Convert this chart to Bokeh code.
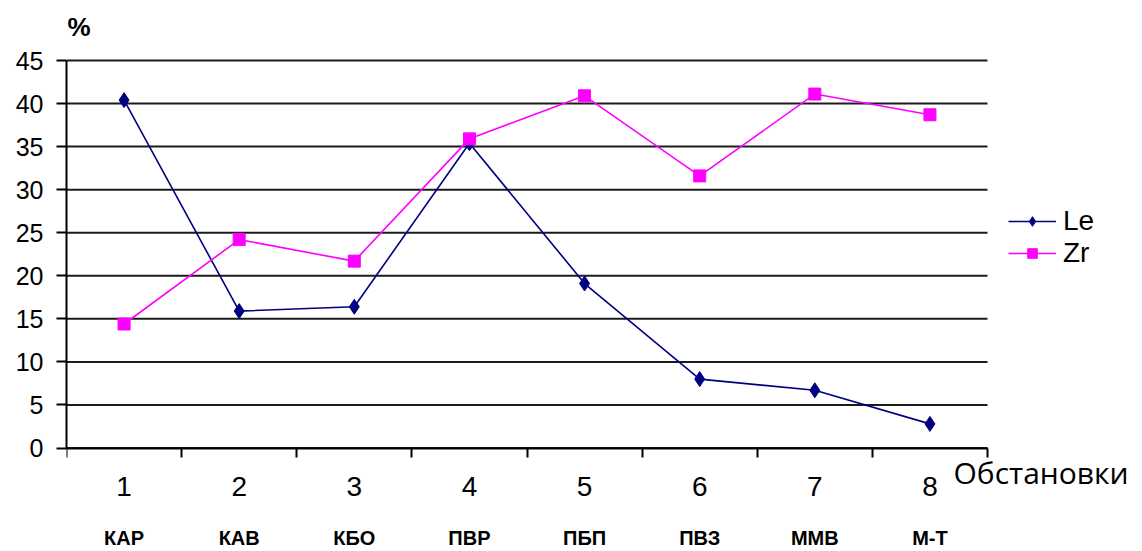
from bokeh.plotting import figure
from bokeh.models import (Range1d, FixedTicker, LinearAxis, Legend, LegendItem,
                          Label)
from bokeh.embed import file_html
from bokeh.resources import INLINE

# Settings (facies) along the horizontal axis
setting_numbers = ["1", "2", "3", "4", "5", "6", "7", "8"]
setting_codes = ["КАР", "КАВ", "КБО", "ПВР", "ПБП", "ПВЗ", "ММВ", "М-Т"]
x_title = "Обстановки"
y_title = "%"

# Share of each series, %
le_values = [40.4, 15.9, 16.4, 35.4, 19.1, 8.0, 6.7, 2.8]
zr_values = [14.4, 24.2, 21.7, 35.9, 40.9, 31.6, 41.1, 38.7]

y_ticks = [0, 5, 10, 15, 20, 25, 30, 35, 40, 45]

n = len(setting_numbers)
positions = [i + 1 for i in range(n)]
boundaries = [i + 0.5 for i in range(n + 1)]
x_lo, x_hi = 0.5, n + 0.5
y_lo, y_hi = y_ticks[0], y_ticks[-1]

# Plot box: categories span x 66..987 px, values span y 447.5..60 px.
# The frame is stretched over the whole canvas (right of the y axis) so
# the captions, legend and category labels can sit around the chart;
# axes and grid lines are bounded to the value/category span.
W, H = 1142, 551
left, right, top, bottom = 66, 987, 60, 447.5
px_x = (right - left) / (x_hi - x_lo)
px_y = (bottom - top) / (y_hi - y_lo)
x_end = x_lo + (W - left) / px_x
y_end = y_hi + top / px_y
y_start = y_lo - (H - bottom) / px_y

p = figure(width=W, height=H, output_backend="svg", toolbar_location=None,
           x_range=Range1d(x_lo, x_end), y_range=Range1d(y_start, y_end),
           min_border_left=left, min_border_right=0,
           min_border_top=0, min_border_bottom=0,
           x_axis_type=None, y_axis_type=None)
p.outline_line_color = None
p.background_fill_color = "white"
p.border_fill_color = "white"
p.xgrid.visible = False
p.ygrid.visible = False

# Y axis
yaxis = LinearAxis(ticker=FixedTicker(ticks=y_ticks, minor_ticks=[]),
                   bounds=(y_lo, y_hi))
yaxis.axis_line_color = "black"
yaxis.axis_line_width = 2
yaxis.major_tick_line_color = "black"
yaxis.major_tick_line_width = 2
yaxis.major_tick_in = 0
yaxis.major_tick_out = 10
yaxis.minor_tick_line_color = None
yaxis.major_label_standoff = 13
yaxis.major_label_text_font = "Liberation Sans"
yaxis.major_label_text_font_size = "25px"
yaxis.major_label_text_color = "black"
p.add_layout(yaxis, "left")

# X axis at y = 0: numbers at category centres, ticks on category boundaries
xaxis = LinearAxis(ticker=FixedTicker(ticks=positions, minor_ticks=boundaries),
                   bounds=(x_lo, x_hi), fixed_location=y_lo)
xaxis.axis_line_color = "black"
xaxis.axis_line_width = 2
xaxis.major_tick_line_color = None
xaxis.major_tick_in = 0
xaxis.major_tick_out = 0
xaxis.minor_tick_line_color = "black"
xaxis.minor_tick_line_width = 2
xaxis.minor_tick_in = 0
xaxis.minor_tick_out = 9
xaxis.major_label_overrides = {pos: lab for pos, lab in zip(positions, setting_numbers)}
xaxis.major_label_standoff = 20
xaxis.major_label_text_font = "Liberation Sans"
xaxis.major_label_text_font_size = "28px"
xaxis.major_label_text_color = "black"
p.add_layout(xaxis, "below")

# Second row of category labels (setting codes)
xaxis2 = LinearAxis(ticker=FixedTicker(ticks=positions, minor_ticks=[]),
                    bounds=(x_lo, x_hi), fixed_location=y_lo)
xaxis2.axis_line_color = None
xaxis2.major_tick_line_color = None
xaxis2.minor_tick_line_color = None
xaxis2.major_tick_in = 0
xaxis2.major_tick_out = 0
xaxis2.major_label_overrides = {pos: lab for pos, lab in zip(positions, setting_codes)}
xaxis2.major_label_standoff = 79
xaxis2.major_label_text_font = "Liberation Sans"
xaxis2.major_label_text_font_style = "bold"
xaxis2.major_label_text_font_size = "20px"
xaxis2.major_label_text_color = "black"
p.add_layout(xaxis2, "below")

# Horizontal grid lines across the category span
p.segment(x0=[x_lo] * len(y_ticks), y0=y_ticks,
          x1=[x_hi] * len(y_ticks), y1=y_ticks,
          line_color="#1c1c1c", line_width=2, level="underlay")

# Series
le_line = p.line(positions, le_values, line_color="#000080", line_width=1.6)
le_pts = p.scatter(positions, le_values, marker="diamond", size=15,
                   fill_color="#000080", line_color="#000080")
zr_line = p.line(positions, zr_values, line_color="#FF00FF", line_width=1.6)
zr_pts = p.scatter(positions, zr_values, marker="square", size=12,
                   fill_color="#FF00FF", line_color="#FF00FF")

# Legend: one entry per box so the rows sit close together
legend_style = dict(orientation="vertical", glyph_width=48, glyph_height=24,
                    label_height=24, label_standoff=7, spacing=0, padding=0,
                    margin=0, border_line_color=None, background_fill_alpha=0,
                    label_text_font="Liberation Sans",
                    label_text_font_size="28px", label_text_color="black")
p.add_layout(Legend(items=[LegendItem(label="Le", renderers=[le_line, le_pts])],
                    location=(942, 314), **legend_style), "center")
p.add_layout(Legend(items=[LegendItem(label="Zr", renderers=[zr_line, zr_pts])],
                    location=(942, 282), **legend_style), "center")

# Axis captions
p.add_layout(Label(x=953 - left, y=H - 472, x_units="screen", y_units="screen",
                   text=x_title, text_font="Open Sans", text_font_size="30px",
                   text_baseline="middle", text_align="left",
                   text_color="black"))
p.add_layout(Label(x=1, y=H - 26, x_units="screen", y_units="screen",
                   text=y_title, text_font="Liberation Sans",
                   text_font_size="26px", text_font_style="bold",
                   text_baseline="middle", text_align="left",
                   text_color="black"))

open("out.html", "w").write(file_html(p, INLINE))
